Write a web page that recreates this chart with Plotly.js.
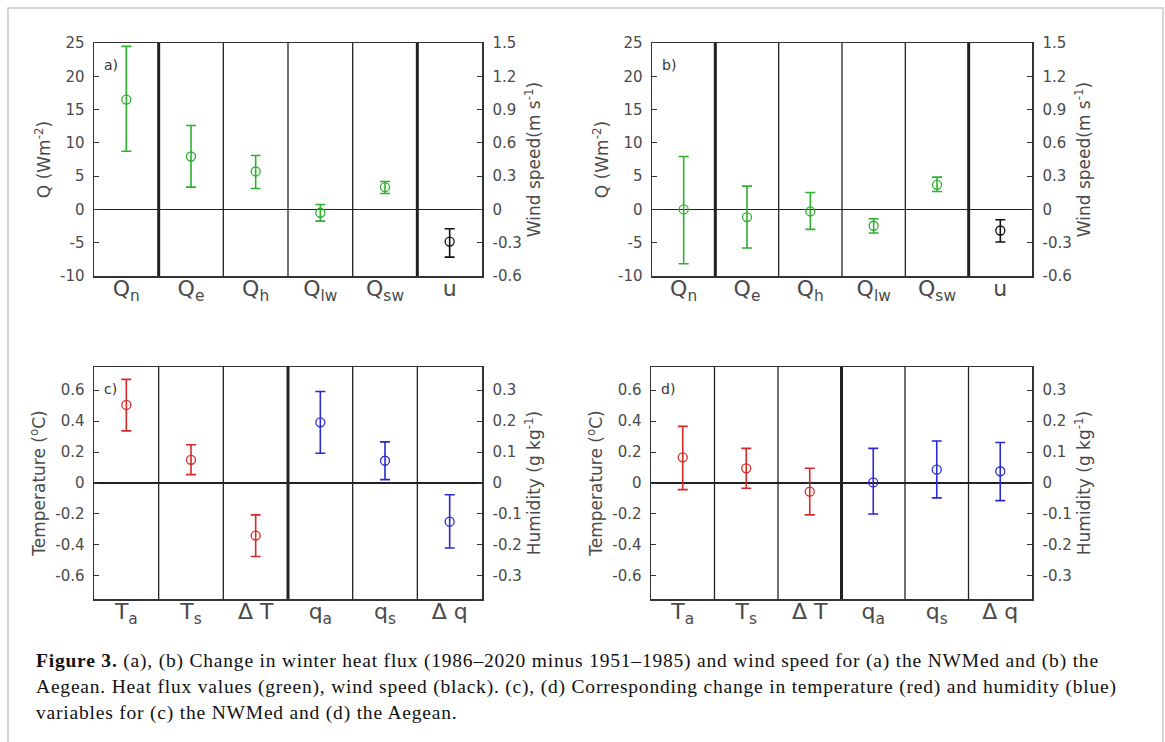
<!DOCTYPE html>
<html><head><meta charset="utf-8">
<script src="https://cdn.plot.ly/plotly-3.0.1.min.js"></script>
<style>
html,body{margin:0;padding:0;background:#fff}
g.annotation[data-index="4"] text, g.annotation[data-index="5"] text, g.annotation[data-index="6"] text {letter-spacing:0.8px}
</style>
</head><body><div id="chart" style="width:1165px;height:742px"></div>
<script>
// ---------- data ----------
const fluxLabels = ['Q<sub>n</sub>','Q<sub>e</sub>','Q<sub>h</sub>','Q<sub>lw</sub>','Q<sub>sw</sub>','u'];
const tempLabels = ['T<sub>a</sub>','T<sub>s</sub>','\u0394 T','q<sub>a</sub>','q<sub>s</sub>','\u0394 q'];

// Panel a (NWMed) heat flux, W m-2
const aFluxVal = [16.5, 7.95, 5.7, -0.5, 3.35];
const aFluxHi  = [24.5, 12.6, 8.1, 0.75, 4.2];
const aFluxLo  = [8.75, 3.35, 3.15, -1.75, 2.4];
// Panel a wind speed, m s-1
const aWindVal = [-0.29];
const aWindHi  = [-0.174];
const aWindLo  = [-0.43];

// Panel b (Aegean) heat flux
const bFluxVal = [0.0, -1.15, -0.3, -2.45, 3.7];
const bFluxHi  = [7.95, 3.5, 2.55, -1.4, 4.85];
const bFluxLo  = [-8.15, -5.8, -3.0, -3.55, 2.7];
const bWindVal = [-0.19];
const bWindHi  = [-0.093];
const bWindLo  = [-0.294];

// Panel c (NWMed) temperature, degC
const cTempVal = [0.505, 0.15, -0.34];
const cTempHi  = [0.67, 0.247, -0.206];
const cTempLo  = [0.337, 0.054, -0.475];
// Panel c humidity, g kg-1
const cHumVal = [0.196, 0.072, -0.125];
const cHumHi  = [0.296, 0.133, -0.038];
const cHumLo  = [0.096, 0.011, -0.21];

// Panel d (Aegean)
const dTempVal = [0.166, 0.095, -0.056];
const dTempHi  = [0.366, 0.224, 0.095];
const dTempLo  = [-0.043, -0.034, -0.206];
const dHumVal = [0.002, 0.043, 0.038];
const dHumHi  = [0.112, 0.136, 0.131];
const dHumLo  = [-0.1, -0.048, -0.057];

// tick labels
const qTicks = [-10,-5,0,5,10,15,20,25];
const qTickText = ['-10','-5','0','5','10','15','20','25'];
const windTicks = [-0.6,-0.3,0,0.3,0.6,0.9,1.2,1.5];
const windTickText = ['-0.6','-0.3','0','0.3','0.6','0.9','1.2','1.5'];
const tTicks = [-0.6,-0.4,-0.2,0,0.2,0.4,0.6];
const tTickText = ['-0.6','-0.4','-0.2','0','0.2','0.4','0.6'];
const hTicks = [-0.3,-0.2,-0.1,0,0.1,0.2,0.3];
const hTickText = ['-0.3','-0.2','-0.1','0','0.1','0.2','0.3'];

// ---------- style ----------
const W = 1165, H = 742;
const GREEN = '#2fb12f', BLACK = '#111111', RED = '#d42a2a', BLUE = '#2a2ad0';
const tickFont = {family:'DejaVu Sans', size:15, color:'#4a4a4a'};
const titleFont = {family:'DejaVu Sans', size:17, color:'#4a4a4a'};
const px = v => v / W;
const py = v => 1 - v / H;

function errTrace(xs, val, hi, lo, color, xa, ya) {
  return {
    type:'scatter', mode:'markers', x: xs, y: val, xaxis: xa, yaxis: ya,
    marker:{symbol:'circle-open', size:9, color: color, line:{width:1.3, color: color}},
    error_y:{type:'data', symmetric:false,
      array: hi.map((h,i)=>h - val[i]), arrayminus: lo.map((l,i)=>val[i] - l),
      color: color, thickness:1.6, width:5},
    showlegend:false, hoverinfo:'y', cliponaxis:false
  };
}
const idx = (n, off) => Array.from({length:n}, (_,i)=>i+off);

const traces = [
  errTrace(idx(5,0), aFluxVal, aFluxHi, aFluxLo, GREEN, 'x', 'y'),
  errTrace(idx(1,5), aWindVal, aWindHi, aWindLo, BLACK, 'x', 'y2'),
  errTrace(idx(5,0), bFluxVal, bFluxHi, bFluxLo, GREEN, 'x2', 'y3'),
  errTrace(idx(1,5), bWindVal, bWindHi, bWindLo, BLACK, 'x2', 'y4'),
  errTrace(idx(3,0), cTempVal, cTempHi, cTempLo, RED, 'x3', 'y5'),
  errTrace(idx(3,3), cHumVal, cHumHi, cHumLo, BLUE, 'x3', 'y6'),
  errTrace(idx(3,0), dTempVal, dTempHi, dTempLo, RED, 'x4', 'y7'),
  errTrace(idx(3,3), dHumVal, dHumHi, dHumLo, BLUE, 'x4', 'y8'),
];

function xAxis(dom, labels, anchor) {
  return {domain: dom, range:[-0.5, labels.length-0.5], anchor: anchor,
    tickvals: labels.map((_,i)=>i), ticktext: labels, ticks:'',
    tickfont:{family:'DejaVu Sans', size:22, color:'#4a4a4a'}, ticklabelstandoff:-8,
    showline:true, mirror:true, linecolor:'#333', linewidth:1.5,
    showgrid:false, zeroline:false, fixedrange:true};
}
function yLeft(dom, range, tv, tt, title, anchor) {
  return {domain: dom, range: range, anchor: anchor, tickvals: tv, ticktext: tt,
    ticks:'inside', ticklen:5, tickcolor:'#333', tickfont: tickFont, ticklabelstandoff:5,
    showline:true, linecolor:'#333', linewidth:1.5, showgrid:false,
    zeroline:true, zerolinecolor:'#222', zerolinewidth:1.3,
    title:{text:title, font:titleFont, standoff:5}, fixedrange:true};
}
function yRight(over, range, tv, tt, title, anchor) {
  return {overlaying: over, side:'right', range: range, anchor: anchor, tickvals: tv, ticktext: tt,
    ticks:'inside', ticklen:5, tickcolor:'#333', tickfont: tickFont, ticklabelstandoff:6,
    showline:true, linecolor:'#333', linewidth:1.5, showgrid:false, zeroline:false,
    title:{text:title, font:titleFont, standoff:0}, fixedrange:true};
}

const domAx = [px(94), px(482)], domBx = [px(652), px(1032)];
const domDx = [px(651), px(1032)];
const domTopY = [py(276), py(43)], domBotY = [py(599), py(367)];

const layout = {
  width: W, height: H, margin:{l:0,r:0,t:0,b:0},
  paper_bgcolor:'#fff', plot_bgcolor:'#fff', showlegend:false,
  xaxis: xAxis(domAx, fluxLabels, 'y'),
  yaxis: yLeft(domTopY, [-10,25], qTicks, qTickText, 'Q (Wm<sup>-2</sup>)', 'x'),
  yaxis2: yRight('y', [-0.6,1.5], windTicks, windTickText, 'Wind speed(m s<sup>-1</sup>)', 'x'),
  xaxis2: xAxis(domBx, fluxLabels, 'y3'),
  yaxis3: yLeft(domTopY, [-10,25], qTicks, qTickText, 'Q (Wm<sup>-2</sup>)', 'x2'),
  yaxis4: yRight('y3', [-0.6,1.5], windTicks, windTickText, 'Wind speed(m s<sup>-1</sup>)', 'x2'),
  xaxis3: xAxis(domAx, tempLabels, 'y5'),
  yaxis5: yLeft(domBotY, [-0.75,0.75], tTicks, tTickText, 'Temperature (<sup>o</sup>C)', 'x3'),
  yaxis6: yRight('y5', [-0.375,0.375], hTicks, hTickText, 'Humidity (g kg<sup>-1</sup>)', 'x3'),
  xaxis4: xAxis(domDx, tempLabels, 'y7'),
  yaxis7: yLeft(domBotY, [-0.75,0.75], tTicks, tTickText, 'Temperature (<sup>o</sup>C)', 'x4'),
  yaxis8: yRight('y7', [-0.375,0.375], hTicks, hTickText, 'Humidity (g kg<sup>-1</sup>)', 'x4'),
  shapes: [], annotations: []
};

// category separators
function separators(xa, ya, n, thick) {
  for (let i = 1; i < n; i++) {
    layout.shapes.push({type:'line', xref: xa, yref: ya + ' domain', x0: i-0.5, x1: i-0.5, y0:0, y1:1,
      line:{color:'#222', width: thick.includes(i) ? 3 : 1.3}, layer:'above'});
  }
}
separators('x', 'y', 6, [1,5]);
separators('x2', 'y3', 6, [1,5]);
separators('x3', 'y5', 6, [3]);
separators('x4', 'y7', 6, [3]);

// outer frame
layout.shapes.push({type:'rect', xref:'paper', yref:'paper', x0: px(8), x1: px(1163), y0: -0.05, y1: py(8),
  line:{color:'#c8c8c8', width:1.5}});

// panel labels
[['a)', 'x', 'y'], ['b)', 'x2', 'y3'], ['c)', 'x3', 'y5'], ['d)', 'x4', 'y7']].forEach(([t, xa, ya]) => {
  layout.annotations.push({text:t, xref: xa + ' domain', yref: ya + ' domain', x:0.02, y:0.95,
    xanchor:'left', yanchor:'top', showarrow:false, font:{family:'DejaVu Sans', size:14, color:'#333'}});
});

// caption
const captionLines = [
  '<b>Figure 3.</b> (a), (b) Change in winter heat flux (1986\u20132020 minus 1951\u20131985) and wind speed for (a) the NWMed and (b) the',
  'Aegean. Heat flux values (green), wind speed (black). (c), (d) Corresponding change in temperature (red) and humidity (blue)',
  'variables for (c) the NWMed and (d) the Aegean.'
];
const capY = [661, 687, 713];
captionLines.forEach((t, i) => {
  layout.annotations.push({text:t, xref:'paper', yref:'paper', x: px(34), y: py(capY[i]),
    xanchor:'left', yanchor:'middle', showarrow:false, align:'left',
    font:{family:'Liberation Serif', size:19.5, color:'#111'}});
});

Plotly.newPlot('chart', traces, layout, {staticPlot:true, displayModeBar:false});
</script></body></html>
